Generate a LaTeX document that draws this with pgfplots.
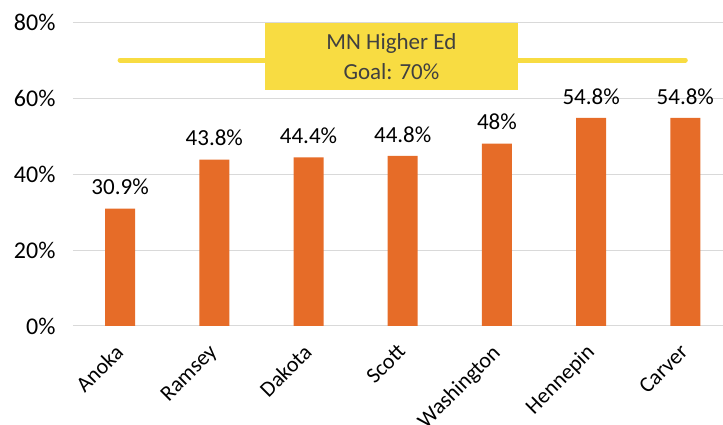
\documentclass[border=0pt]{standalone}
\usepackage{fontspec}
\setmainfont{Carlito}
\usepackage{pgfplots}
\pgfplotsset{compat=1.18}
\definecolor{barorange}{HTML}{E66C28}
\definecolor{goalyellow}{HTML}{F8DC42}
\definecolor{gridgray}{HTML}{D9D9D9}
\definecolor{boxtext}{HTML}{404040}

\begin{document}
\begin{tikzpicture}
\useasboundingbox (-73pt,-99pt) rectangle (650pt,326pt);
\begin{axis}[
  at={(0,0)}, anchor=south west,
  scale only axis,
  width=650pt, height=304pt,
  ybar, bar width=30pt,
  xmin=-0.5, xmax=6.4,
  ymin=0, ymax=80,
  ytick={0,20,40,60,80},
  yticklabel={\pgfmathprintnumber{\tick}\%},
  xtick={0,...,6},
  xticklabels={Anoka,Ramsey,Dakota,Scott,Washington,Hennepin,Carver},
  xticklabel style={rotate=45, anchor=north east, font=\fontsize{22}{26}\selectfont, xshift=-13pt, yshift=-4pt},
  yticklabel style={font=\fontsize{24}{28}\selectfont, xshift=-14pt},
  /pgf/number format/assume math mode=true,
  axis line style={draw=none},
  major tick length=0pt,
  ymajorgrids=true,
  grid style={gridgray, line width=1pt},
  clip=false,
  nodes near coords,
  point meta=explicit symbolic,
  every node near coord/.append style={font=\fontsize{23}{27}\selectfont, anchor=south, yshift=10pt},
]
\addplot[fill=barorange, draw=none] coordinates {
  (0,30.9) [30.9\%]
  (1,43.8) [43.8\%]
  (2,44.4) [44.4\%]
  (3,44.8) [44.8\%]
  (4,48)   [48\%]
  (5,54.8) [54.8\%]
  (6,54.8) [54.8\%]
};
\addplot[goalyellow, line width=5pt, line cap=round, sharp plot, nodes near coords={}] coordinates {(0,70) (6,70)};
\node[fill=goalyellow, minimum width=253pt, minimum height=67pt, align=center,
      text=boxtext, font=\fontsize{23}{30}\selectfont]
  at (axis cs:2.88,70.9) {MN Higher Ed\\Goal: 70\%};
\end{axis}
\end{tikzpicture}
\end{document}
